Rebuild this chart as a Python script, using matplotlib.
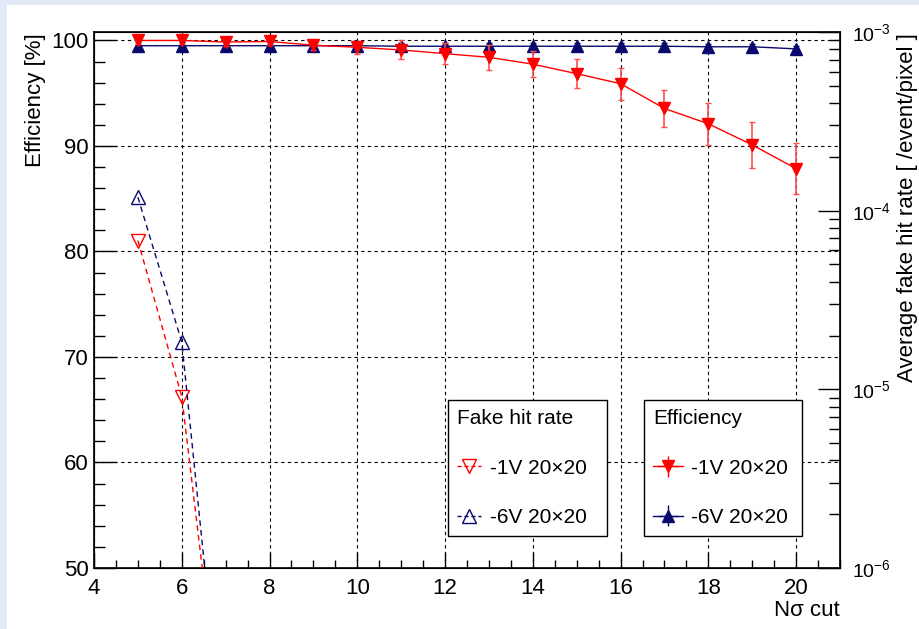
import numpy as np
import matplotlib.pyplot as plt
from matplotlib.patches import Rectangle
from matplotlib.lines import Line2D
from matplotlib.ticker import MultipleLocator, LogLocator, NullFormatter

plt.rcParams['font.family'] = ['Liberation Sans', 'DejaVu Sans']
plt.rcParams['mathtext.fontset'] = 'custom'
plt.rcParams['mathtext.rm'] = 'Liberation Sans'
plt.rcParams['mathtext.it'] = 'Liberation Sans:italic'

# N sigma cut values
nsigma = [5, 6, 7, 8, 9, 10, 11, 12, 13, 14, 15, 16, 17, 18, 19, 20]

# efficiency [%]
eff_1v = [100.0, 100.0, 99.85, 99.9, 99.55, 99.35, 99.1, 98.75, 98.4, 97.75,
          96.85, 95.9, 93.55, 92.1, 90.1, 87.85]
eff_1v_err = [0.3, 0.3, 0.35, 0.35, 0.45, 0.6, 0.9, 1.0, 1.2, 1.25,
              1.4, 1.5, 1.8, 2.0, 2.2, 2.4]
eff_6v = [99.5, 99.5, 99.5, 99.5, 99.5, 99.5, 99.45, 99.45, 99.45, 99.45,
          99.45, 99.45, 99.45, 99.4, 99.4, 99.2]
eff_6v_err = [0.35, 0.35, 0.35, 0.35, 0.35, 0.35, 0.3, 0.3, 0.3, 0.3,
              0.3, 0.3, 0.3, 0.3, 0.3, 0.3]

# fake hit rate [/event/pixel]
fake_x = [5, 6, 7]
fake_1v = [6.8e-5, 9.1e-6, 8e-8]
fake_6v = [1.19e-4, 1.84e-5, 7e-8]

rojo = '#ff0000'
azul = '#0a0a6e'

fig = plt.figure(figsize=(9.19, 6.29), dpi=100)
fig.patch.set_facecolor('#e1eaf6')
fig.patches.append(Rectangle((7 / 919, 0), 1, 1 - 5 / 629, transform=fig.transFigure,
                             facecolor='white', edgecolor='none', zorder=-10))

ax = fig.add_axes([94 / 919, 1 - 568 / 629, (840 - 94) / 919, (568 - 32) / 629])
ax.set_xlim(4, 21)
ax.set_ylim(50, 100.8)

# grid
ax.grid(True, which='major', color='black', linestyle=(0, (3, 3)), linewidth=0.8)
ax.set_axisbelow(True)

# efficiency curves
ax.errorbar(nsigma, eff_6v, yerr=eff_6v_err, color=azul, marker='^', markersize=8,
            linewidth=1, elinewidth=1, capsize=2, ecolor=azul, zorder=3)
ax.errorbar(nsigma, eff_1v, yerr=eff_1v_err, color=rojo, marker='v', markersize=9,
            linewidth=1, elinewidth=1.2, capsize=2, ecolor=(1, 0.3, 0.3), zorder=4)

ax.xaxis.set_major_locator(MultipleLocator(2))
ax.xaxis.set_minor_locator(MultipleLocator(0.5))
ax.yaxis.set_major_locator(MultipleLocator(10))
ax.yaxis.set_minor_locator(MultipleLocator(2))
ax.tick_params(which='both', direction='in', top=False, right=False, labelsize=16,
               width=1)
ax.tick_params(axis='x', which='major', length=11, pad=7)
ax.tick_params(axis='x', which='minor', length=6)
ax.tick_params(axis='y', which='major', length=16, pad=4)
ax.tick_params(axis='y', which='minor', length=8)
for s in ax.spines.values():
    s.set_linewidth(1.2)

ax.set_xlabel('Nσ cut', loc='right', fontsize=16, labelpad=1)
# axis titles placed like ROOT does (top aligned)
fig.text(35 / 919, 1 - 33 / 629, 'Efficiency [%]', rotation=90, fontsize=16,
         ha='center', va='top')

# fake hit rate on log axis
ax2 = ax.twinx()
ax2.set_yscale('log')
ax2.set_ylim(1e-6, 1e-3)
ax2.plot(fake_x, fake_1v, color=rojo, linestyle=(0, (4, 3)), linewidth=1,
         marker='v', markersize=10, markerfacecolor='none', markeredgecolor=rojo)
ax2.plot(fake_x, fake_6v, color=azul, linestyle=(0, (4, 3)), linewidth=1,
         marker='^', markersize=10, markerfacecolor='none', markeredgecolor=azul)
ax2.yaxis.set_major_locator(LogLocator(base=10, numticks=10))
ax2.yaxis.set_minor_locator(LogLocator(base=10, subs=np.arange(2, 10), numticks=10))
ax2.yaxis.set_minor_formatter(NullFormatter())
ax2.tick_params(which='both', direction='in', labelsize=14, width=1)
ax2.tick_params(which='major', length=16, pad=9)
ax2.tick_params(which='minor', length=8)
fig.text(907 / 919, 1 - 33 / 629, 'Average fake hit rate [ /event/pixel ]',
         rotation=90, fontsize=16, ha='center', va='top')

# legends
h_f1 = Line2D([], [], color=rojo, linestyle=(0, (3, 2)), linewidth=1, marker='v',
              markersize=10, markerfacecolor='none')
h_f6 = Line2D([], [], color=azul, linestyle=(0, (3, 2)), linewidth=1, marker='^',
              markersize=10, markerfacecolor='none')
leg1 = ax2.legend([h_f1, h_f6], ['-1V 20×20', '-6V 20×20'], title='Fake hit rate',
                  loc='upper left',
                  bbox_to_anchor=(448 / 919, 1 - 400 / 629, 159 / 919, 0),
                  mode='expand',
                  bbox_transform=fig.transFigure, fontsize=15, title_fontsize=15,
                  fancybox=False, framealpha=1, edgecolor='black', handlelength=1.15,
                  handletextpad=0.4, labelspacing=1.45, borderpad=0.45,
                  borderaxespad=0, alignment='left')
leg1.get_frame().set_linewidth(1)
ax2.add_artist(leg1)

h_e1 = ax2.errorbar([], [], yerr=[], xerr=[], color=rojo, marker='v', markersize=9,
                    linewidth=1)
h_e6 = ax2.errorbar([], [], yerr=[], xerr=[], color=azul, marker='^', markersize=8,
                    linewidth=1)
leg2 = ax2.legend([h_e1, h_e6], ['-1V 20×20', '-6V 20×20'], title='Efficiency',
                  loc='upper left',
                  bbox_to_anchor=(644 / 919, 1 - 400 / 629, 158 / 919, 0),
                  mode='expand',
                  bbox_transform=fig.transFigure, fontsize=15, title_fontsize=15,
                  fancybox=False, framealpha=1, edgecolor='black', handlelength=1.4,
                  handletextpad=0.4, labelspacing=1.45, borderpad=0.45,
                  borderaxespad=0, alignment='left')
leg2.get_frame().set_linewidth(1)

fig.savefig('out.png', dpi=100, facecolor=fig.get_facecolor())
